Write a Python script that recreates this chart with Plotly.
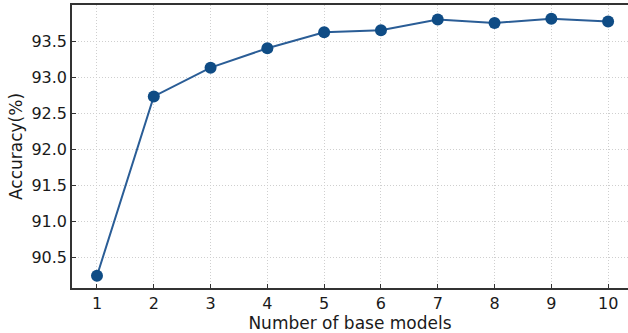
import plotly.graph_objects as go

models = [1, 2, 3, 4, 5, 6, 7, 8, 9, 10]
accuracy = [90.25, 92.74, 93.14, 93.41, 93.63, 93.66, 93.81, 93.76, 93.82, 93.78]
y_ticks = [90.5, 91.0, 91.5, 92.0, 92.5, 93.0, 93.5]

fig = go.Figure()
fig.add_trace(go.Scatter(
    x=models, y=accuracy, mode="lines+markers",
    line=dict(color="#2a5d96", width=2),
    marker=dict(color="#0f4c85", size=12),
    showlegend=False,
    cliponaxis=False,
))

tick_font = dict(family="DejaVu Sans", size=16, color="#1a1a1a")
title_font = dict(family="DejaVu Sans", size=17, color="#1a1a1a")
fig.update_layout(
    width=628, height=333,
    margin=dict(l=72, r=0, t=5, b=45),
    paper_bgcolor="white", plot_bgcolor="white",
    font=tick_font,
)
grid = dict(showgrid=True, gridcolor="#cfcfcf", griddash="1px,2px", gridwidth=1)
fig.update_xaxes(
    range=[0.56, 10.35], tickvals=models, ticktext=[str(m) for m in models],
    showline=True, linecolor="#333333", linewidth=1.5, mirror=True,
    ticks="inside", ticklen=4, tickcolor="#333333",
    zeroline=False, automargin=False,
    title=dict(text="Number of base models", standoff=2, font=title_font),
    tickfont=tick_font, **grid,
)
fig.update_yaxes(
    range=[90.08, 94.01], tickvals=y_ticks, ticktext=[f"{v:.1f}" for v in y_ticks],
    showline=True, linecolor="#333333", linewidth=1.5, mirror=False,
    ticks="inside", ticklen=4, tickcolor="#333333",
    zeroline=False, automargin=False,
    title=dict(text="Accuracy(%)", standoff=4, font=title_font),
    tickfont=tick_font, **grid,
)
fig.write_html(
    "out.html",
    config={"displayModeBar": False},
    post_script="document.body.style.margin='0';document.body.style.overflow='hidden';",
)
